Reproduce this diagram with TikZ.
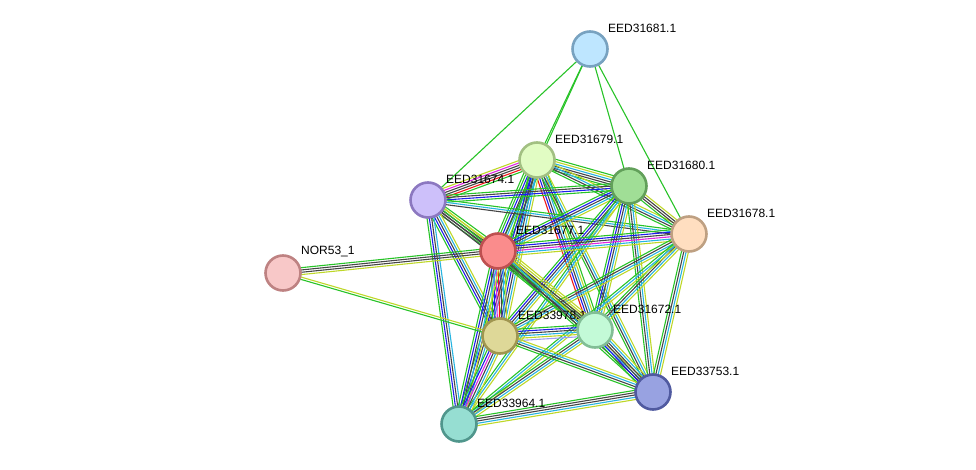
\documentclass[tikz,border=0pt]{standalone}
\usepackage{fontspec}
\setmainfont{Liberation Sans}
\usetikzlibrary{calc,backgrounds}
\definecolor{sG}{RGB}{40,195,40}
\definecolor{sK}{RGB}{70,70,70}
\definecolor{sB}{RGB}{30,30,235}
\definecolor{sC}{RGB}{40,180,225}
\definecolor{sY}{RGB}{190,215,40}
\definecolor{sM}{RGB}{225,40,225}
\definecolor{sR}{RGB}{240,25,25}
\definecolor{sP}{RGB}{160,160,240}
\tikzset{
  prot/.style={circle, minimum size=35pt, inner sep=0pt, line width=2.6pt},
  plabel/.style={anchor=west, font=\fontsize{12pt}{14pt}\selectfont, text=black, inner sep=0pt},
  sline/.style={line width=1.1pt}
}
\newcommand\sedge[3]{%
  \gdef\nn{0}%
  \foreach \c in {#3}{\pgfmathparse{int(\nn+1)}\xdef\nn{\pgfmathresult}}%
  \foreach \c [count=\i] in {#3}{%
    \pgfmathsetmacro\off{(\i-(\nn+1)/2)*2.3}%
    \draw[sline, color=\c] ($(#1)!\off pt!90:(#2)$) -- ($(#2)!\off pt!-90:(#1)$);
  }%
}
\newcommand\prot[6]{% name, x, y, fill, border, label
  \node[plabel] (#1l) at (#2+18,#3-21) {#6};
  \node[prot, fill=#4, draw=#5] (#1) at (#2,#3) {};
}
\begin{document}
\begin{tikzpicture}[x=1pt,y=-1pt]
\useasboundingbox (0,0) rectangle (976,470);
\prot{a81}{590}{49}{{rgb,255:red,190;green,230;blue,255}}{{rgb,255:red,120;green,162;blue,192}}{EED31681.1}
\prot{a79}{537}{160}{{rgb,255:red,225;green,252;blue,195}}{{rgb,255:red,162;green,192;blue,130}}{EED31679.1}
\prot{a80}{629}{186}{{rgb,255:red,160;green,222;blue,150}}{{rgb,255:red,98;green,160;blue,90}}{EED31680.1}
\prot{a74}{428}{200}{{rgb,255:red,205;green,192;blue,250}}{{rgb,255:red,140;green,120;blue,192}}{EED31674.1}
\prot{a78}{689}{234}{{rgb,255:red,255;green,222;blue,192}}{{rgb,255:red,190;green,160;blue,130}}{EED31678.1}
\prot{a77}{498}{251}{{rgb,255:red,250;green,140;blue,140}}{{rgb,255:red,190;green,80;blue,80}}{EED31677.1}
\prot{nor}{283}{273}{{rgb,255:red,248;green,200;blue,200}}{{rgb,255:red,190;green,130;blue,130}}{NOR53\_1}
\prot{a978}{500}{336}{{rgb,255:red,222;green,216;blue,152}}{{rgb,255:red,160;green,150;blue,80}}{EED33978.1}
\prot{a72}{595}{330}{{rgb,255:red,195;green,250;blue,215}}{{rgb,255:red,130;green,190;blue,150}}{EED31672.1}
\prot{a753}{653}{392}{{rgb,255:red,152;green,162;blue,225}}{{rgb,255:red,80;green,90;blue,160}}{EED33753.1}
\prot{a964}{459}{424}{{rgb,255:red,150;green,222;blue,210}}{{rgb,255:red,80;green,150;blue,140}}{EED33964.1}
\begin{pgfonlayer}{background}
\sedge{a81}{a74}{sG}
\sedge{a81}{a79}{sG}
\sedge{a81}{a77}{sG}
\sedge{a81}{a80}{sG}
\sedge{a81}{a78}{sG}
\sedge{a79}{a74}{sY,sM,sK,sK,sR,sG}
\sedge{a79}{a80}{sG,sK,sK,sC,sY,sG}
\sedge{a79}{a78}{sG,sK,sC,sY}
\sedge{a79}{a77}{sG,sG,sB,sK,sC,sY,sG}
\sedge{a79}{a72}{sR,sB,sK,sC,sY,sG}
\sedge{a79}{a978}{sG,sB,sK,sC,sY}
\sedge{a79}{a753}{sG,sK,sC,sY}
\sedge{a79}{a964}{sG,sB,sK,sC}
\sedge{a74}{a80}{sG,sB,sK,sG}
\sedge{a74}{a78}{sK,sC,sG}
\sedge{a74}{a77}{sG,sK,sK,sY,sG}
\sedge{a74}{a72}{sK,sK,sG,sY}
\sedge{a74}{a978}{sG,sB,sK,sC,sY}
\sedge{a74}{a964}{sG,sB,sK,sC}
\sedge{a80}{a78}{sG,sK,sK,sY}
\sedge{a80}{a77}{sG,sB,sK,sC,sY}
\sedge{a80}{a72}{sG,sB,sK,sC,sY}
\sedge{a80}{a978}{sG,sB,sK,sC,sY}
\sedge{a80}{a753}{sG,sK,sC,sY}
\sedge{a80}{a964}{sG,sC,sY}
\sedge{a78}{a77}{sG,sB,sK,sM,sC,sY}
\sedge{a78}{a72}{sG,sK,sC,sY}
\sedge{a78}{a978}{sG,sK,sC,sY}
\sedge{a78}{a753}{sG,sK,sC,sY}
\sedge{a78}{a964}{sG,sC,sY}
\sedge{a77}{nor}{sG,sK,sK,sY}
\sedge{a77}{a72}{sG,sK,sG,sK,sK,sY,sY}
\sedge{a77}{a978}{sG,sB,sM,sR,sK,sC,sY}
\sedge{a77}{a753}{sG,sK,sC,sY}
\sedge{a77}{a964}{sG,sB,sK,sC,sY}
\sedge{nor}{a978}{sG,sY}
\sedge{a72}{a978}{sG,sB,sK,sC,sY,sP}
\sedge{a72}{a753}{sG,sB,sK,sK,sC,sY}
\sedge{a72}{a964}{sG,sK,sC,sY}
\sedge{a978}{a753}{sG,sK,sC,sY}
\sedge{a978}{a964}{sG,sB,sM,sK,sC,sY}
\sedge{a753}{a964}{sG,sK,sK,sC,sY}
\end{pgfonlayer}
\end{tikzpicture}
\end{document}
